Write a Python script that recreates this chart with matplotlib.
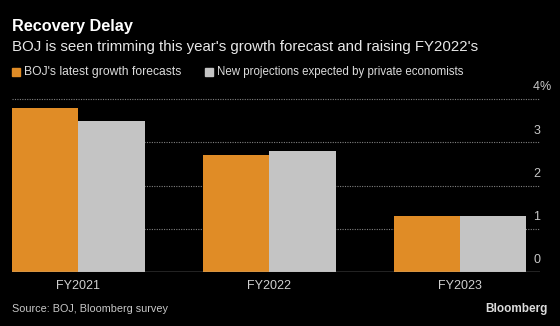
import matplotlib
matplotlib.use("Agg")
import matplotlib.pyplot as plt
import matplotlib.transforms as mtransforms
import numpy as np

# BOJ growth forecasts vs. private economists' expectations (% y/y)
years = ["FY2021", "FY2022", "FY2023"]
boj_latest = [3.8, 2.7, 1.3]
private_expected = [3.5, 2.8, 1.3]
y_ticks = [0, 1, 2, 3, 4]

series_names = ["BOJ's latest growth forecasts",
                "New projections expected by private economists"]

ORANGE = "#e08c26"
GREY = "#c4c4c4"
BG = "#000000"

plt.rcParams["font.family"] = ["Liberation Sans", "DejaVu Sans"]

W, H = 560, 326
fig = plt.figure(figsize=(W / 100, H / 100), dpi=100, facecolor=BG)
renderer = fig.canvas.get_renderer()


def fit(t, width_px):
    # shrink/grow a text so that it spans the given pixel width
    w = t.get_window_extent(renderer).width
    t.set_fontsize(t.get_fontsize() * width_px / w)
    return t


# axes box in pixels: left 12, right 540, baseline y=272, top (4%) y=99
ax = fig.add_axes([12 / W, (H - 272) / H, 528 / W, (272 - 99) / H])
ax.set_facecolor(BG)

x = np.arange(len(years))
bw = 0.348
ax.bar(x - bw / 2, boj_latest, width=bw, color=ORANGE, zorder=3)
ax.bar(x + bw / 2, private_expected, width=bw, color=GREY, zorder=3)

ax.set_xlim(-bw, 2.419)
ax.set_ylim(0, 4)

for s in ax.spines.values():
    s.set_visible(False)

# dotted gridlines
for v in y_ticks[1:]:
    ax.axhline(v, color="#808080", lw=0.8, ls=(0, (1, 1.2)), zorder=1, clip_on=False)
ax.axhline(0, color="#b0b0b0", lw=1.0, zorder=4)

# right-hand tick labels sitting above the gridlines
trans = mtransforms.blended_transform_factory(ax.transAxes, ax.transData)
off = mtransforms.offset_copy(trans, fig=fig, x=0, y=4, units="points")
for v in y_ticks:
    ax.text(1.0, v, str(v), transform=off, ha="right", va="bottom",
            color="#c8c8c8", fontsize=9)
ax.text(1.0, y_ticks[-1], "%", transform=off, ha="left", va="bottom",
        color="#c8c8c8", fontsize=9)

ax.set_yticks([])
ax.set_xticks(x)
ax.set_xticklabels(years, color="#d0d0d0", fontsize=9)
ax.tick_params(axis="x", length=0, pad=6)

# titles
fit(fig.text(12 / W, 1 - 27 / H, "Recovery Delay", color="white", fontsize=12,
             fontweight="bold", va="center", ha="left"), 121)
fit(fig.text(12 / W, 1 - 47 / H,
             "BOJ is seen trimming this year's growth forecast and raising FY2022's",
             color="#e8e8e8", fontsize=12, va="center", ha="left"), 468)

# legend row
legend_x = [12, 205]
legend_w = [159, 248]
for name, col, lx, lw in zip(series_names, [ORANGE, GREY], legend_x, legend_w):
    fig.patches.append(plt.Rectangle((lx / W, 1 - 76 / H), 8 / W, 8 / H,
                                     transform=fig.transFigure, color=col))
    fit(fig.text((lx + 12) / W, 1 - 72 / H, name, color="#dcdcdc",
                 fontsize=9, va="center", ha="left"), lw)

fit(fig.text(12 / W, 1 - 309 / H, "Source: BOJ, Bloomberg survey", color="#c8c8c8",
             fontsize=9, va="center", ha="left"), 156)
fig.text(548 / W, 1 - 309 / H, "Bloomberg", color="#dcdcdc", fontsize=8.5,
         fontweight="bold", va="center", ha="right")

fig.savefig("out.png", dpi=100, facecolor=BG)
